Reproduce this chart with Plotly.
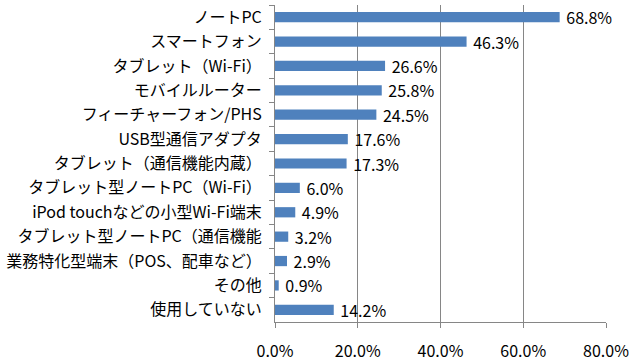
import plotly.graph_objects as go

categories = [
    "ノートPC",
    "スマートフォン",
    "タブレット（Wi-Fi）",
    "モバイルルーター",
    "フィーチャーフォン/PHS",
    "USB型通信アダプタ",
    "タブレット（通信機能内蔵）",
    "タブレット型ノートPC（Wi-Fi）",
    "iPod touchなどの小型Wi-Fi端末",
    "タブレット型ノートPC（通信機能",
    "業務特化型端末（POS、配車など）",
    "その他",
    "使用していない",
]
values = [68.8, 46.3, 26.6, 25.8, 24.5, 17.6, 17.3, 6.0, 4.9, 3.2, 2.9, 0.9, 14.2]
x_ticks = [0, 20, 40, 60, 80]
x_tick_labels = ["0.0%", "20.0%", "40.0%", "60.0%", "80.0%"]

font_family = "Noto Sans CJK JP, Noto Sans, sans-serif"
fs = 16

fig = go.Figure(
    go.Bar(
        y=categories,
        x=values,
        orientation="h",
        marker=dict(color="#4F81BD", line=dict(width=0)),
        width=0.42,
        text=[f" {v:.1f}%" for v in values],
        textposition="outside",
        constraintext="none",
        textfont=dict(size=fs, color="#000000", family=font_family),
        cliponaxis=False,
    )
)

fig.update_layout(
    width=635,
    height=364,
    margin=dict(l=275, r=29, t=5, b=42, autoexpand=False),
    paper_bgcolor="white",
    plot_bgcolor="white",
    showlegend=False,
    font=dict(family=font_family, size=fs, color="#000000"),
)

fig.update_xaxes(
    range=[0, 80],
    tickvals=x_ticks,
    ticktext=x_tick_labels,
    showgrid=True,
    gridcolor="#868686",
    gridwidth=1,
    zeroline=False,
    showline=True,
    linecolor="#868686",
    ticks="outside",
    ticklen=5,
    tickcolor="#868686",
    tickfont=dict(size=fs, family=font_family),
    ticklabelstandoff=10,
    automargin=False,
    fixedrange=True,
)

fig.update_yaxes(
    categoryorder="array",
    categoryarray=categories,
    autorange="reversed",
    showline=True,
    linecolor="#868686",
    ticks="outside",
    tickson="boundaries",
    ticklen=5,
    tickcolor="#868686",
    showgrid=False,
    tickfont=dict(size=fs, family=font_family),
    ticklabelstandoff=9,
    automargin=False,
    fixedrange=True,
)

fig.write_html(
    "out.html",
    config={"displayModeBar": False},
    post_script="document.body.style.margin='0px';document.body.style.overflow='hidden';",
)
